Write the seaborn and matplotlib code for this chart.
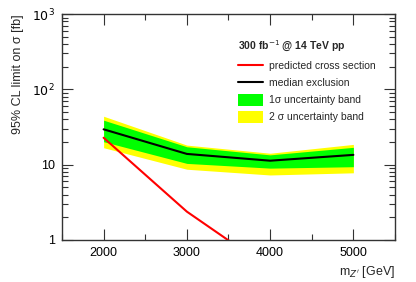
import numpy as np
import pandas as pd
import matplotlib
matplotlib.use("Agg")
import matplotlib.pyplot as plt
import matplotlib.ticker as mticker
from matplotlib.lines import Line2D
from matplotlib.patches import Patch
import seaborn as sns

# Data
mass = [2000, 3000, 4000, 5000]
median = [29.5, 13.9, 11.3, 13.5]
band1_lo = [20.2, 10.4, 9.0, 9.4]
band1_hi = [39.0, 17.3, 13.5, 17.0]
band2_lo = [16.8, 8.7, 7.3, 7.8]
band2_hi = [44.0, 18.2, 14.2, 18.6]
predicted = [22.8, 2.38, 0.41, 0.07]

df = pd.DataFrame({"mass": mass, "median": median, "predicted": predicted})

sns.set_style("ticks")
plt.rcParams["font.family"] = ["Liberation Sans", "DejaVu Sans"]

fig = plt.figure(figsize=(4.16, 2.82), dpi=100)
ax = fig.add_axes([0.149, 0.149, 0.8005, 0.801])

ax.fill_between(mass, band2_lo, band2_hi, color="#ffff00", lw=0)
ax.fill_between(mass, band1_lo, band1_hi, color="#00ff00", lw=0)
sns.lineplot(data=df, x="mass", y="predicted", color="#ff0000", lw=1.5, ax=ax)
sns.lineplot(data=df, x="mass", y="median", color="black", lw=1.5, ax=ax)

ax.set_yscale("log")
ax.set_xlim(1500, 5500)
ax.set_ylim(1, 1000)

ytick_labels = {1: "1", 10: "10", 100: "$10^2$", 1000: "$10^3$"}
ax.yaxis.set_major_formatter(mticker.FuncFormatter(lambda v, p: ytick_labels.get(int(round(v)), "")))
ax.yaxis.set_minor_formatter(mticker.NullFormatter())
ax.set_xticks(mass)
ax.xaxis.set_minor_locator(mticker.MultipleLocator(500))

ax.tick_params(which="both", direction="in", top=True, right=True, labelsize=9, colors="#333333",
               labelcolor="black", pad=5)
ax.tick_params(which="major", length=8, width=0.8)
ax.tick_params(which="minor", length=4, width=0.8)
for s in ax.spines.values():
    s.set_color("#333333")
    s.set_linewidth(1.0)

ax.set_xlabel("m$_{Z'}$ [GeV]", fontsize=9, loc="right")
ax.set_ylabel("95% CL limit on σ [fb]", fontsize=9, loc="top", labelpad=6)

handles = [
    Line2D([], [], color="#ff0000", lw=1.5),
    Line2D([], [], color="black", lw=1.5),
    Patch(facecolor="#00ff00", edgecolor="none"),
    Patch(facecolor="#ffff00", edgecolor="none"),
]
labels = ["predicted cross section", "median exclusion",
          "1σ uncertainty band", "2 σ uncertainty band"]
leg = ax.legend(handles, labels, loc="upper left", bbox_to_anchor=(0.5, 0.93),
                frameon=False, fontsize=7.5, title="300 fb$^{-1}$ @ 14 TeV pp",
                title_fontproperties={"weight": "bold", "size": 7.5},
                handlelength=2.4, handleheight=1.3, labelspacing=0.55, handletextpad=0.6,
                alignment="left")

fig.savefig("out.png", dpi=100)
